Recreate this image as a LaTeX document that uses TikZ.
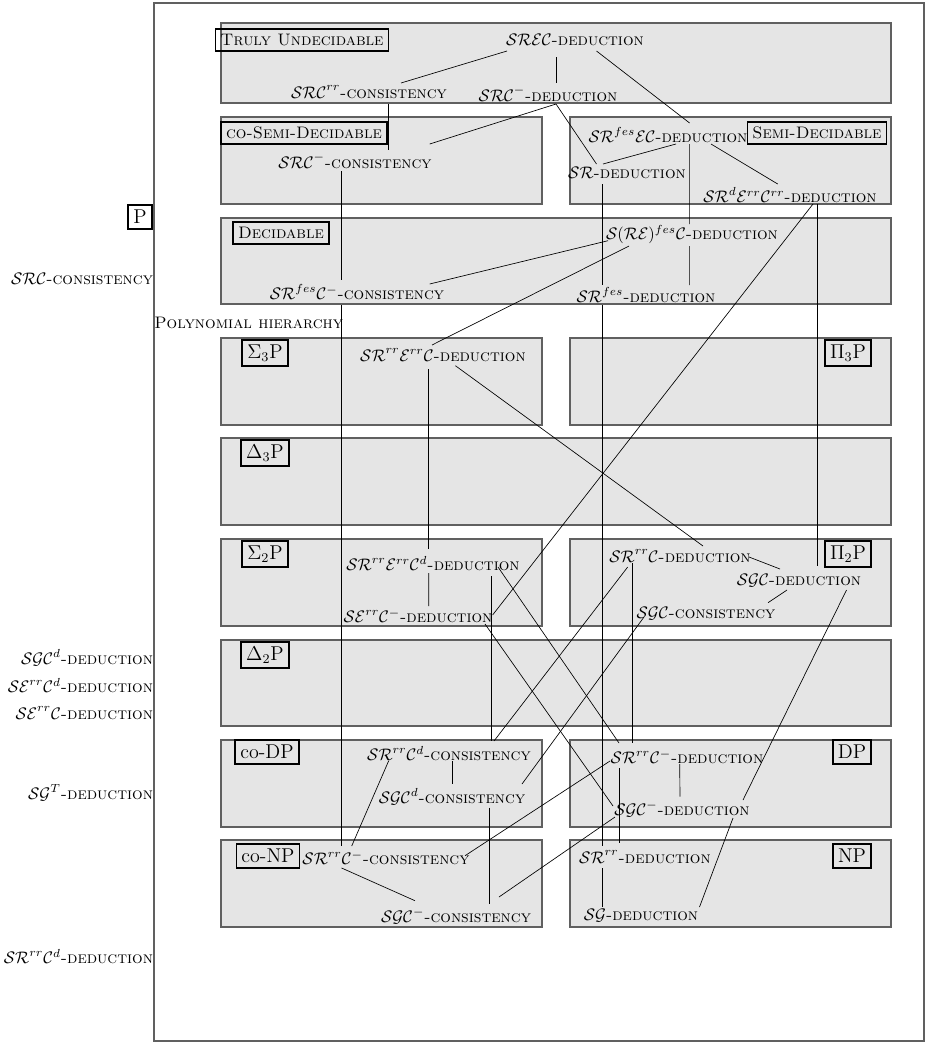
\documentclass[tikz,border=0pt]{standalone}
\begin{document}
\newcommand{\lnk}[4]{\draw[link] ([shift={(#2)}]#1.center) -- ([shift={(#4)}]#3.center);}
\begin{tikzpicture}[x=0.6pt,y=-0.6pt,
  region/.style={fill=gray!20,draw=gray!75!black,line width=0.7pt},
  tag/.style={draw=black,line width=1.1pt,inner sep=3pt},
  bigtag/.style={tag,font=\large},
  prob/.style={inner sep=1pt},
  link/.style={line width=0.4pt,black}]
\useasboundingbox (0,0) rectangle (926,1043);
\draw[gray!75!black,line width=0.7pt] (154,3) rectangle (924,1041);
% regions
\draw[region] (221,23) rectangle (891,103);
\draw[region] (221,117) rectangle (542,204);
\draw[region] (570,117) rectangle (891,204);
\draw[region] (221,218) rectangle (891,304);
\draw[region] (221,338) rectangle (542,425);
\draw[region] (570,338) rectangle (891,425);
\draw[region] (221,438) rectangle (891,525);
\draw[region] (221,539) rectangle (542,626);
\draw[region] (570,539) rectangle (891,626);
\draw[region] (221,640) rectangle (891,726);
\draw[region] (221,740) rectangle (542,827);
\draw[region] (570,740) rectangle (891,827);
\draw[region] (221,840) rectangle (542,927);
\draw[region] (570,840) rectangle (891,927);
% tags
\node[tag] (tu) at (302,40) {\textsc{Truly Undecidable}};
\node[tag] (csd) at (304,133) {\textsc{co-Semi-Decidable}};
\node[tag] (sd) at (817,133) {\textsc{Semi-Decidable}};
\node[tag] (dec) at (281,233) {\textsc{Decidable}};
\node[bigtag] (p) at (140,217) {P};
\node[bigtag] (s3) at (265,353) {$\Sigma_3$P};
\node[bigtag] (p3) at (848,353) {$\Pi_3$P};
\node[bigtag] (d3) at (265,453) {$\Delta_3$P};
\node[bigtag] (s2) at (265,554) {$\Sigma_2$P};
\node[bigtag] (p2) at (848,554) {$\Pi_2$P};
\node[bigtag] (d2) at (265,655) {$\Delta_2$P};
\node[bigtag] (codp) at (267,752) {co-DP};
\node[bigtag] (dp) at (852,752) {DP};
\node[bigtag] (conp) at (268,856) {co-NP};
\node[bigtag] (np) at (852,856) {NP};
\node[inner sep=0pt,anchor=west] (ph) at (154,323) {\textsc{Polynomial hierarchy}};
% problems
\node[prob] (srec) at (575,40) {$\mathcal{SREC}$\textsc{-deduction}};
\node[prob] (srcrrc) at (369,92) {$\mathcal{SRC}^{rr}$\textsc{-consistency}};
\node[prob] (srcmd) at (548,94) {$\mathcal{SRC}^-$\textsc{-deduction}};
\node[prob] (srfesec) at (668,135) {$\mathcal{SR}^{fes}\mathcal{EC}$\textsc{-deduction}};
\node[prob] (srd) at (627,173) {$\mathcal{SR}$\textsc{-deduction}};
\node[prob] (srderr) at (790,195) {$\mathcal{SR}^d\mathcal{E}^{rr}\mathcal{C}^{rr}$\textsc{-deduction}};
\node[prob] (srcmc) at (355,161) {$\mathcal{SRC}^-$\textsc{-consistency}};
\node[prob] (srefes) at (692,235) {$\mathcal{S}(\mathcal{RE})^{fes}\mathcal{C}$\textsc{-deduction}};
\node[prob] (srfescm) at (357,292) {$\mathcal{SR}^{fes}\mathcal{C}^-$\textsc{-consistency}};
\node[prob] (srfesd) at (646,295) {$\mathcal{SR}^{fes}$\textsc{-deduction}};
\node[prob] (srrerrc) at (443,355) {$\mathcal{SR}^{rr}\mathcal{E}^{rr}\mathcal{C}$\textsc{-deduction}};
\node[prob] (srrerrcd) at (433,564) {$\mathcal{SR}^{rr}\mathcal{E}^{rr}\mathcal{C}^d$\textsc{-deduction}};
\node[prob] (serrcm) at (418,616) {$\mathcal{SE}^{rr}\mathcal{C}^-$\textsc{-deduction}};
\node[prob] (srrc) at (680,556) {$\mathcal{SR}^{rr}\mathcal{C}$\textsc{-deduction}};
\node[prob] (sgcd) at (799,581) {$\mathcal{SGC}$\textsc{-deduction}};
\node[prob] (sgcc) at (706,614) {$\mathcal{SGC}$\textsc{-consistency}};
\node[prob] (srrcdc) at (449,754) {$\mathcal{SR}^{rr}\mathcal{C}^d$\textsc{-consistency}};
\node[prob] (sgcdc) at (452,797) {$\mathcal{SGC}^d$\textsc{-consistency}};
\node[prob] (srrcmd) at (687,757) {$\mathcal{SR}^{rr}\mathcal{C}^-$\textsc{-deduction}};
\node[prob] (sgcmd) at (682,809) {$\mathcal{SGC}^-$\textsc{-deduction}};
\node[prob] (srrcmc) at (386,858) {$\mathcal{SR}^{rr}\mathcal{C}^-$\textsc{-consistency}};
\node[prob] (sgcmc) at (456,916) {$\mathcal{SGC}^-$\textsc{-consistency}};
\node[prob] (srrd) at (645,857) {$\mathcal{SR}^{rr}$\textsc{-deduction}};
\node[prob] (sgd) at (641,916) {$\mathcal{SG}$\textsc{-deduction}};
% left column
\node[prob,anchor=east] (la) at (155,279) {$\mathcal{SRC}$\textsc{-consistency}};
\node[prob,anchor=east] (lb) at (155,658) {$\mathcal{SGC}^d$\textsc{-deduction}};
\node[prob,anchor=east] (lc) at (155,686) {$\mathcal{SE}^{rr}\mathcal{C}^d$\textsc{-deduction}};
\node[prob,anchor=east] (ld) at (155,713) {$\mathcal{SE}^{rr}\mathcal{C}$\textsc{-deduction}};
\node[prob,anchor=east] (le) at (155,793) {$\mathcal{SG}^T$\textsc{-deduction}};
\node[prob,anchor=east] (lf) at (155,957) {$\mathcal{SR}^{rr}\mathcal{C}^d$\textsc{-deduction}};
% connectors
\lnk{srec}{-68,11}{srcrrc}{32,-9}
\lnk{srec}{-19,17}{srcmd}{8,-11}
\lnk{srec}{21.5,11}{srfesec}{21.6,-12}
\lnk{srcrrc}{19.6,12}{srcmc}{33.6,-11}
\lnk{srcmd}{8,10}{srcmc}{74.7,-17}
\lnk{srcmd}{8,10}{srd}{-30.5,-9}
\lnk{srfesec}{8,9}{srd}{-24,-9}
\lnk{srfesec}{21.6,9}{srefes}{-2.4,-11}
\lnk{srfesec}{43,9}{srderr}{-12.3,-11}
\lnk{srcmc}{-13.4,10}{srfescm}{-15.4,-12}
\lnk{srfescm}{72.7,-8}{srefes}{-84,5.7}
\lnk{srefes}{-63,11}{srrerrc}{-11,-10}
\lnk{srefes}{-2.4,11}{srfesd}{43.6,-10}
\lnk{srd}{-24.5,11}{srfesd}{-43.5,-10}
\lnk{srfesd}{-43.5,10}{srrd}{-42.5,-11}
\lnk{srderr}{23,9}{serrcm}{74.6,-1}
\lnk{srderr}{27.3,9}{sgcd}{18.3,-15}
\lnk{srrerrc}{-14.3,14}{srrerrcd}{-4.3,-15}
\lnk{srrerrc}{12.4,10.7}{srrc}{23,-10}
\lnk{srrerrcd}{-4.3,9}{serrcm}{10.7,-10}
\lnk{srrerrcd}{58.6,12}{srrcdc}{42.6,-13}
\lnk{srrerrcd}{65,3}{srrcmd}{-68,-14}
\lnk{serrcm}{67,8}{sgcmd}{-69,-3}
\lnk{srrc}{69,1}{sgcd}{-19,-12}
\lnk{sgcd}{-12,9}{sgcc}{62,-11.3}
\lnk{sgcd}{47.5,9}{sgcmd}{61,-9}
\lnk{sgcmd}{51,9}{sgd}{58.5,-9}
\lnk{srrc}{-52.3,11}{srrcdc}{45,-13}
\lnk{srrc}{-47.3,7}{srrcmd}{-54.3,-14}
\lnk{sgcc}{-62,3}{sgcdc}{70,-13}
\lnk{srrcdc}{3,7}{sgcdc}{0,-13}
\lnk{srrcdc}{-60.4,7}{srrcmc}{-34.3,-12}
\lnk{sgcdc}{37,10.7}{sgcmc}{33,-12}
\lnk{srrcmd}{-77,4}{srrcmc}{79,-2.3}
\lnk{srrcmd}{-7.3,7}{sgcmd}{-2,-12.3}
\lnk{srrcmd}{-67.7,11}{srrd}{-25.7,-14}
\lnk{sgcmd}{-67,8}{sgcmc}{43,-19}
\lnk{srrcmc}{-44.4,10}{sgcmc}{-41,-15.3}
\lnk{srrd}{-42.5,11}{sgd}{-38.5,-9}
\lnk{srfescm}{-15.4,13}{srrcmc}{-44.4,-12}
\end{tikzpicture}
\end{document}
